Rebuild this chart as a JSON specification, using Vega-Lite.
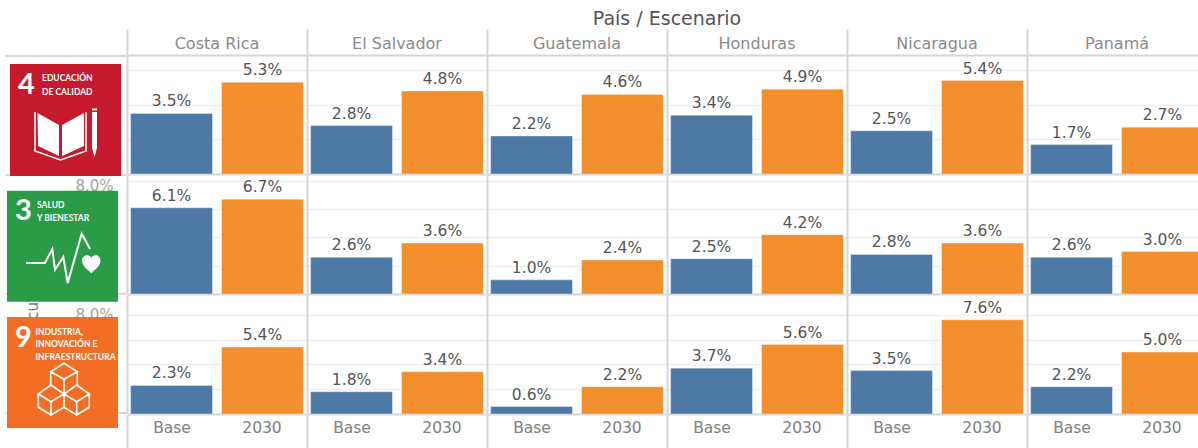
{
"$schema":"https://vega.github.io/schema/vega-lite/v6.json",
"padding":0,"background":"white","spacing":0,
"config":{"view":{"stroke":null},"concat":{"spacing":0},"facet":{"spacing":0},"font":"DejaVu Sans",
"axis":{"domainColor":"#d6d6d6","domainWidth":2,"ticks":false,"labels":false,"title":null,"grid":false}},
"datasets":{
"logos":[
{"objetivo":"4","num":"4","titulo":"EDUCACIÓN\nDE CALIDAD"},
{"objetivo":"3","num":"3","titulo":"SALUD\nY BIENESTAR"},
{"objetivo":"9","num":"9","titulo":"INDUSTRIA,\nINNOVACIÓN E\nINFRAESTRUCTURA"}],
"encabezado":[{"titulo":"País / Escenario"}],
"cells":[
{"objetivo":"4","pais":"Costa Rica","escenario":"Base","valor":0.035},{"objetivo":"4","pais":"Costa Rica","escenario":"2030","valor":0.053},
{"objetivo":"4","pais":"El Salvador","escenario":"Base","valor":0.028},{"objetivo":"4","pais":"El Salvador","escenario":"2030","valor":0.048},
{"objetivo":"4","pais":"Guatemala","escenario":"Base","valor":0.022},{"objetivo":"4","pais":"Guatemala","escenario":"2030","valor":0.046},
{"objetivo":"4","pais":"Honduras","escenario":"Base","valor":0.034},{"objetivo":"4","pais":"Honduras","escenario":"2030","valor":0.049},
{"objetivo":"4","pais":"Nicaragua","escenario":"Base","valor":0.025},{"objetivo":"4","pais":"Nicaragua","escenario":"2030","valor":0.054},
{"objetivo":"4","pais":"Panamá","escenario":"Base","valor":0.017},{"objetivo":"4","pais":"Panamá","escenario":"2030","valor":0.027},
{"objetivo":"3","pais":"Costa Rica","escenario":"Base","valor":0.061},{"objetivo":"3","pais":"Costa Rica","escenario":"2030","valor":0.067},
{"objetivo":"3","pais":"El Salvador","escenario":"Base","valor":0.026},{"objetivo":"3","pais":"El Salvador","escenario":"2030","valor":0.036},
{"objetivo":"3","pais":"Guatemala","escenario":"Base","valor":0.010},{"objetivo":"3","pais":"Guatemala","escenario":"2030","valor":0.024},
{"objetivo":"3","pais":"Honduras","escenario":"Base","valor":0.025},{"objetivo":"3","pais":"Honduras","escenario":"2030","valor":0.042},
{"objetivo":"3","pais":"Nicaragua","escenario":"Base","valor":0.028},{"objetivo":"3","pais":"Nicaragua","escenario":"2030","valor":0.036},
{"objetivo":"3","pais":"Panamá","escenario":"Base","valor":0.026},{"objetivo":"3","pais":"Panamá","escenario":"2030","valor":0.030},
{"objetivo":"9","pais":"Costa Rica","escenario":"Base","valor":0.023},{"objetivo":"9","pais":"Costa Rica","escenario":"2030","valor":0.054},
{"objetivo":"9","pais":"El Salvador","escenario":"Base","valor":0.018},{"objetivo":"9","pais":"El Salvador","escenario":"2030","valor":0.034},
{"objetivo":"9","pais":"Guatemala","escenario":"Base","valor":0.006},{"objetivo":"9","pais":"Guatemala","escenario":"2030","valor":0.022},
{"objetivo":"9","pais":"Honduras","escenario":"Base","valor":0.037},{"objetivo":"9","pais":"Honduras","escenario":"2030","valor":0.056},
{"objetivo":"9","pais":"Nicaragua","escenario":"Base","valor":0.035},{"objetivo":"9","pais":"Nicaragua","escenario":"2030","valor":0.076},
{"objetivo":"9","pais":"Panamá","escenario":"Base","valor":0.022},{"objetivo":"9","pais":"Panamá","escenario":"2030","valor":0.050}]
},
"hconcat":[
{"width":127,"height":448,"data":{"name":"logos"},
"encoding":{"y":{"field":"objetivo","type":"nominal","axis":null,"scale":{"type":"point","domain":["4","3","9"],"range":[120,372.5],"padding":0}}},
"layer":[
{"transform":[{"filter":"datum.objetivo==='4'"}],"mark":{"type":"point","filled":true,"color":"#d6d6d6","opacity":1,"size":4,"shape":"M-58,-65H63V-63H-58ZM-58,54H63V56H-58Z"}},
{"transform":[{"filter":"datum.objetivo==='3'"}],"mark":{"type":"point","filled":true,"color":"#d6d6d6","opacity":1,"size":4,"shape":"M-58,46.5H63V48.5H-58Z"}},
{"transform":[{"filter":"datum.objetivo==='9'"}],"mark":{"type":"point","filled":true,"color":"#d6d6d6","opacity":1,"size":4,"shape":"M-58,39.5H63V41.5H-58Z"}},
{"transform":[{"filter":"datum.objetivo==='3'"}],"mark":{"type":"text","text":"8.0%","fontSize":15,"color":"#a3a3a3","align":"right","dx":50,"dy":-60}},
{"transform":[{"filter":"datum.objetivo==='9'"}],"mark":{"type":"text","text":"8.0%","fontSize":15,"color":"#a3a3a3","align":"right","dx":50,"dy":-58}},
{"transform":[{"filter":"datum.objetivo==='9'"}],"mark":{"type":"text","text":"cu.","fontSize":15,"color":"#777777","angle":270,"xOffset":-31,"yOffset":-64}},
{"transform":[{"filter":"datum.objetivo==='4'"}],"mark":{"type":"point","filled":true,"color":"#C5192D","opacity":1,"size":4,"shape":"M-53.5,-56H57.5V56H-53.5Z"}},
{"transform":[{"filter":"datum.objetivo==='3'"}],"mark":{"type":"point","filled":true,"color":"#2A9C47","opacity":1,"size":4,"shape":"M-56.5,-55.5H54.5V55.5H-56.5Z"}},
{"transform":[{"filter":"datum.objetivo==='9'"}],"mark":{"type":"point","filled":true,"color":"#F36D25","opacity":1,"size":4,"shape":"M-56.5,-55.5H54.5V55.5H-56.5Z"}},
{"transform":[{"filter":"datum.objetivo==='4'"}],"mark":{"type":"text","font":"Lato","fontWeight":"bold","fontSize":29,"color":"white","dx":-37,"dy":-35,"baseline":"middle"},"encoding":{"text":{"field":"num"}}},
{"transform":[{"filter":"datum.objetivo==='3'"}],"mark":{"type":"text","font":"Lato","fontWeight":"bold","fontSize":29,"color":"white","dx":-40,"dy":-35.5,"baseline":"middle"},"encoding":{"text":{"field":"num"}}},
{"transform":[{"filter":"datum.objetivo==='9'"}],"mark":{"type":"text","font":"Lato","fontWeight":"bold","fontSize":29,"color":"white","dx":-40,"dy":-34.5,"baseline":"middle"},"encoding":{"text":{"field":"num"}}},
{"transform":[{"filter":"datum.objetivo==='4'"}],"mark":{"type":"text","font":"Lato","fontWeight":"bold","fontSize":8.5,"color":"white","align":"left","baseline":"top","lineBreak":"\n","lineHeight":13.5,"dx":-21.5,"dy":-46},"encoding":{"text":{"field":"titulo"}}},
{"transform":[{"filter":"datum.objetivo==='3'"}],"mark":{"type":"text","font":"Lato","fontWeight":"bold","fontSize":8.5,"color":"white","align":"left","baseline":"top","lineBreak":"\n","lineHeight":13.5,"dx":-26.5,"dy":-45.5},"encoding":{"text":{"field":"titulo"}}},
{"transform":[{"filter":"datum.objetivo==='9'"}],"mark":{"type":"text","font":"Lato","fontWeight":"bold","fontSize":8.5,"color":"white","align":"left","baseline":"top","lineBreak":"\n","lineHeight":12.5,"dx":-28,"dy":-45},"encoding":{"text":{"field":"titulo"}}},
{"transform":[{"filter":"datum.objetivo==='4'"}],"mark":{"type":"point","filled":true,"color":"white","opacity":1,"size":4,"shape":"M-26,-7L-4.5,5L-4.5,36L-25.5,26ZM-1.5,5L20.5,-7L20.5,26L-1.5,36ZM28.5,-8H33.5V28L31,37L28.5,28ZM28.5,-11.5H33.5V-9.5H28.5Z"}},
{"transform":[{"filter":"datum.objetivo==='4'"}],"mark":{"type":"point","filled":false,"color":"white","opacity":1,"strokeWidth":1.6,"size":4,"shape":"M-28.5,-8L-28.5,31L-3,40L22.5,31L22.5,-8"}},
{"transform":[{"filter":"datum.objetivo==='3'"}],"mark":{"type":"point","filled":false,"color":"white","opacity":1,"strokeWidth":2,"size":4,"shape":"M-37.5,16.8L-18.5,16.8L-11.2,2.8L-8.5,23.5L-0.2,10.8L4.2,36.8L18.2,-12.5L26.5,2.8"}},
{"transform":[{"filter":"datum.objetivo==='3'"}],"mark":{"type":"point","filled":true,"color":"white","opacity":1,"size":4,"shape":"M27.8,27C23.5,23 18.5,19.5 18.5,14.5C18.5,11 21,9 23.5,9C25.5,9 27,10 27.8,11.5C28.5,10 30,9 32,9C34.5,9 37,11 37,14.5C37,19.5 32,23 27.8,27Z"}},
{"transform":[{"filter":"datum.objetivo==='9'"}],"mark":{"type":"point","filled":false,"color":"white","opacity":1,"strokeWidth":1.6,"size":4,"shape":"M0.5,-9.2L13.8,-0.8L0.5,6.8L-12.8,-0.8ZM-12.8,-0.8V14M13.8,-0.8V14M0.5,6.8V21.5M-12.5,12.5L0.5,21.5L-12.5,29.2L-25.2,21.5ZM-25.2,21.5V34.8L-12.5,42.5L0.5,34.8V21.5M-12.5,29.2V42.5M13.2,12.5L25.8,21.5L13.2,29.2L0.5,21.5ZM25.8,21.5V34.8L13.2,42.5L0.5,34.8M13.2,29.2V42.5"}}
]},
{"spacing":0,"vconcat":[
{"width":1080,"height":29,"data":{"name":"encabezado"},"mark":{"type":"text","fontSize":19,"color":"#555555","dy":4},"encoding":{"text":{"field":"titulo"}}},
{"data":{"name":"cells"},"transform":[{"filter":"datum.objetivo==='4' && datum.escenario==='Base'"}],
"facet":{"column":{"field":"pais","type":"nominal","sort":null,"header":null}},
"spacing":0,"bounds":"flush","resolve":{"axis":{"y":"independent","x":"independent"}},
"spec":{"width":180,"height":26,"mark":{"type":"text","fontSize":16,"color":"#8a8a8a","dy":2},
"encoding":{"text":{"field":"pais"},
"x":{"datum":0.5,"type":"quantitative","scale":{"domain":[0,1]},"axis":{"domain":true}},
"y":{"datum":0.5,"type":"quantitative","scale":{"domain":[0,1]},"axis":{"domain":true}}}}},
{"data":{"name":"cells"},"transform":[{"filter":"datum.objetivo==='4'"}],
"facet":{"column":{"field":"pais","type":"nominal","sort":null,"header":null}},
"spacing":0,"bounds":"flush","resolve":{"axis":{"y":"independent"}},
"spec":{"width":180,"height":119,
"encoding":{"x":{"field":"escenario","type":"nominal","sort":["Base","2030"],"axis":{"domain":true},"scale":{"paddingInner":0.1,"paddingOuter":0.04}},
"y":{"field":"valor","type":"quantitative","scale":{"domain":[0,0.0688]},"axis":{"domain":true,"grid":true,"gridColor":"#f0f0f0","gridWidth":1.5,"values":[0.02,0.04,0.06]}}},
"layer":[
{"mark":{"type":"bar","stroke":"white","strokeOpacity":0.35,"strokeWidth":1},"encoding":{"color":{"field":"escenario","legend":null,"scale":{"domain":["Base","2030"],"range":["#4E79A7","#F28E2B"]}}}},
{"mark":{"type":"text","fontSize":15.5,"color":"#555555","baseline":"bottom","dy":-4},"encoding":{"text":{"field":"valor","format":".1%"}}}]}},
{"data":{"name":"cells"},"transform":[{"filter":"datum.objetivo==='3'"}],
"facet":{"column":{"field":"pais","type":"nominal","sort":null,"header":null}},
"spacing":0,"bounds":"flush","resolve":{"axis":{"y":"independent"}},
"spec":{"width":180,"height":119,
"encoding":{"x":{"field":"escenario","type":"nominal","sort":["Base","2030"],"axis":{"domain":true},"scale":{"paddingInner":0.1,"paddingOuter":0.04}},
"y":{"field":"valor","type":"quantitative","scale":{"domain":[0,0.0842]},"axis":{"domain":true,"grid":true,"gridColor":"#f0f0f0","gridWidth":1.5,"values":[0.02,0.04,0.06,0.08]}}},
"layer":[
{"mark":{"type":"bar","stroke":"white","strokeOpacity":0.35,"strokeWidth":1},"encoding":{"color":{"field":"escenario","legend":null,"scale":{"domain":["Base","2030"],"range":["#4E79A7","#F28E2B"]}}}},
{"mark":{"type":"text","fontSize":15.5,"color":"#555555","baseline":"bottom","dy":-4},"encoding":{"text":{"field":"valor","format":".1%"}}}]}},
{"data":{"name":"cells"},"transform":[{"filter":"datum.objetivo==='9'"}],
"facet":{"column":{"field":"pais","type":"nominal","sort":null,"header":null}},
"spacing":0,"bounds":"flush","resolve":{"axis":{"y":"independent"}},
"spec":{"width":180,"height":119,
"encoding":{"x":{"field":"escenario","type":"nominal","sort":["Base","2030"],"axis":{"domain":true},"scale":{"paddingInner":0.1,"paddingOuter":0.04}},
"y":{"field":"valor","type":"quantitative","scale":{"domain":[0,0.096]},"axis":{"domain":true,"grid":true,"gridColor":"#f0f0f0","gridWidth":1.5,"values":[0.02,0.04,0.06,0.08]}}},
"layer":[
{"mark":{"type":"bar","stroke":"white","strokeOpacity":0.35,"strokeWidth":1},"encoding":{"color":{"field":"escenario","legend":null,"scale":{"domain":["Base","2030"],"range":["#4E79A7","#F28E2B"]}}}},
{"mark":{"type":"text","fontSize":15.5,"color":"#555555","baseline":"bottom","dy":-4},"encoding":{"text":{"field":"valor","format":".1%"}}}]}},
{"data":{"name":"cells"},"transform":[{"filter":"datum.objetivo==='9'"}],
"facet":{"column":{"field":"pais","type":"nominal","sort":null,"header":null}},
"spacing":0,"bounds":"flush","resolve":{"axis":{"y":"independent"}},
"spec":{"width":180,"height":35,"mark":{"type":"text","fontSize":15.5,"color":"#808080","dy":-5},
"encoding":{"text":{"field":"escenario"},
"x":{"field":"escenario","type":"nominal","sort":["Base","2030"],"axis":null,"scale":{"paddingInner":0.1,"paddingOuter":0.04}},
"y":{"datum":0.5,"type":"quantitative","scale":{"domain":[0,1]},"axis":{"domain":true}}}}}
]}
]}
